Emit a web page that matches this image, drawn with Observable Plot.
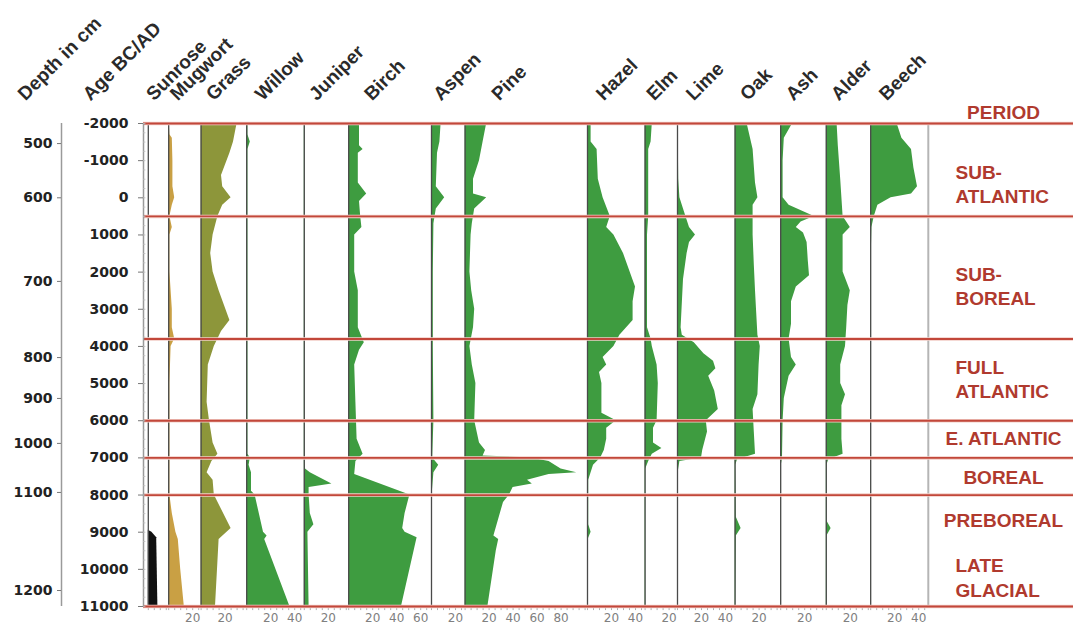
<!DOCTYPE html>
<html><head><meta charset="utf-8">
<script src="https://cdn.jsdelivr.net/npm/d3@7"></script>
<script src="https://cdn.jsdelivr.net/npm/@observablehq/plot@0.6"></script>
<style>body{margin:0;background:#fff;}</style>
</head><body><div id="chart"></div>
<script>
// ---------- DATA ----------
const taxa = ["Sunrose","Mugwort","Grass","Willow","Juniper","Birch","Aspen","Pine","Hazel","Elm","Lime","Oak","Ash","Alder","Beech"];
// percentage range shown by each taxon's panel
const panelRange = [17, 27, 38, 48, 37, 69, 28, 102, 48, 27, 48, 38, 38, 37, 48];
const taxonGroup = ["sunrose","herb","grass","tree","tree","tree","tree","tree","tree","tree","tree","tree","tree","tree","tree"];

// [age BC/AD, pollen %]
const sunrose = [[8950,0],[9000,3],[9150,7],[11000,8]];
const mugwort = [[-2000,0.5],[-1700,1],[-1600,3],[-1000,3.5],[-300,3.5],[0,5],[200,3],[500,1],[800,3],[1000,1],[2000,1],[3000,3],[3500,3],[3800,5],[4000,2],[5000,1],[6000,1],[7000,1],[8000,1],[8500,3],[9000,6],[9200,8],[10000,10],[11000,13]];
const grass = [[-2000,30],[-1500,27],[-1200,24],[-600,17],[-300,18],[0,25],[200,18],[500,14],[1000,10],[1500,8],[2000,10],[2500,15],[3300,24],[3600,17],[4000,11],[4500,6],[5500,5],[6000,7],[6600,10],[6900,14],[7100,9],[7400,5],[7600,10],[8000,11],[8900,25],[9200,15],[9800,14],[11000,12]];
const willow = [[-2000,1],[-1700,1],[-1500,3],[-1300,1],[6900,1],[7000,3],[7200,2],[7400,4],[7900,4],[8000,7],[9000,14],[9100,17],[9200,15],[11000,36]];
const juniper = [[-2000,0.5],[7000,0.5],[7300,1],[7400,5],[7700,23],[7800,4],[8000,4],[8500,5],[8800,8],[9000,3],[11000,4]];
const birch = [[-2000,9],[-1400,9],[-1300,12],[-1200,8],[-400,8],[-100,15],[100,9],[500,10],[800,11],[1000,5],[2000,5],[2500,8],[3500,8],[3900,13],[4100,9],[4500,5],[5500,6],[6500,7],[6900,12],[7100,6],[7450,5],[8000,51],[8500,47],[8900,45],[9000,47],[9150,57],[11000,44]];
const aspen = [[-2000,8],[-1500,7],[-1200,5],[-300,4],[0,11],[300,4],[700,2],[2000,1.5],[4000,1.5],[6000,2],[7000,1],[7200,6],[7400,2],[8000,0.5],[11000,0.5]];
const pine = [[-2000,18],[-1500,15],[-1000,12],[-500,7],[-100,7],[0,18],[300,8],[700,6],[1000,5],[2000,4],[2500,5.5],[3000,8],[3500,7],[4000,4],[4500,6],[5000,9],[6000,8],[6600,12],[6800,17],[6950,15],[7000,55],[7100,70],[7300,80],[7400,93],[7450,70],[7600,52],[7700,56],[7800,40],[8000,37],[8200,32],[9100,24],[9200,28],[9500,26],[11000,19]];
const hazel = [[-2000,3],[-1500,3],[-1300,8],[-500,9],[0,13],[500,19],[800,16],[1000,22],[1500,30],[2400,40],[2800,38],[3300,38],[3700,27],[4000,22],[4300,13],[4500,16],[4700,10],[5000,12],[5800,12],[6000,24],[6200,16],[6500,16],[6800,14],[7000,11],[7200,5],[7400,3],[7600,1],[8800,1],[9000,3],[9200,0.5],[11000,0.5]];
const elm = [[-2000,6],[-1500,5],[-1300,3],[500,3],[1000,2],[3500,2],[3800,5],[4000,6],[4500,10],[5000,11],[6000,10],[6200,7],[6600,7],[6750,14],[6900,6],[7100,3],[7300,0.5],[11000,0.5]];
const lime = [[-2000,0.5],[-500,1],[0,2],[500,7],[800,10],[1000,15],[1200,10],[1500,8],[2200,5],[3500,3],[3700,4],[3900,14],[4200,22],[4400,30],[4600,32],[4800,26],[5200,31],[5700,34],[6000,24],[6300,25],[6800,21],[7000,20],[7100,2],[7400,0.5],[11000,0.5]];
const oak = [[-2000,10],[-1300,15],[-400,17],[0,19],[200,15],[1000,15],[1800,16],[2500,17],[3100,18],[3700,19],[4000,21],[4500,20],[5300,19],[5700,15],[6300,16],[6900,17],[7050,2],[7200,0.5],[8600,1],[8900,5],[9100,1],[11000,0.5]];
const ash = [[-2000,10],[-1600,3],[-1000,2],[0,2],[200,7],[500,28],[650,17],[800,13],[950,19],[1200,22],[1700,23],[2100,24],[2400,13],[2800,9],[3400,9],[3800,7],[4300,9],[4500,13],[4800,7],[5400,3],[6000,2],[7000,1.5],[7200,0.5],[11000,0.5]];
const alder = [[-2000,9],[-1400,10],[-500,12],[500,14],[800,20],[1000,14],[2000,14],[2500,20],[2900,18],[3500,17],[4000,16],[4500,12],[5000,12],[5300,16],[5600,13],[6500,13],[6900,14],[7050,2],[7200,0.5],[8700,0.5],[8900,4],[9100,0.5],[11000,0.5]];
const beech = [[-2000,22],[-1600,26],[-1300,34],[-800,36],[-300,39],[-100,34],[0,17],[200,6],[500,3],[800,1],[1500,0.5],[11000,0.5]];
const profiles = [sunrose, mugwort, grass, willow, juniper, birch, aspen, pine, hazel, elm, lime, oak, ash, alder, beech];

const ageTicks = [-2000,-1000,0,1000,2000,3000,4000,5000,6000,7000,8000,9000,10000,11000];
const depthTicks = [500,600,700,800,900,1000,1100,1200];
const depthAtAge = [-1460,0,2250,4300,5400,6610,7930,10570]; // age at each depth tick

const periodBounds = [-2000, 500, 3800, 6000, 7000, 8000, 11000];
const periodNames = ["SUB-\nATLANTIC","SUB-\nBOREAL","FULL\nATLANTIC","E. ATLANTIC","BOREAL","PREBOREAL","LATE\nGLACIAL"];
const periodLabelAge = [-400, 2350, 4850, 6480, 7530, 8700, 10200];
const pctTicks = [20, 40, 60, 80, 100];

// ---------- LAYOUT ----------
const W = 1073, H = 635;
const mL = 143, mT = 123, mB = 29, mR = 0;
const pxPerUnit = 1.2;
const xMin = -4;
const xMax = xMin + (W - mL - mR) / pxPerUnit;
const ageMin = -2000, ageMax = 11000;
const groupColor = {sunrose: "#111111", herb: "#c9a044", grass: "#8d963a", tree: "#3e9c40"};
const sans = "DejaVu Sans, Verdana, sans-serif";
const arial = "Liberation Sans, Arial, sans-serif";

let acc = 0;
const panels = taxa.map((name, i) => {
  const p = {name, offset: acc, range: panelRange[i], group: taxonGroup[i], profile: profiles[i]};
  acc += panelRange[i];
  return p;
});
const panelsEnd = acc;

const pctLabels = panels.flatMap(p => pctTicks.filter(v => v <= p.range - 5).map(v => ({x: p.offset + v, v})));
const minorTicks = panels.flatMap(p => d3.range(0, p.range, 5).map(v => ({x: p.offset + v})));
const ageMinor = d3.range(ageMin, ageMax + 1, 250);
const depthMap = new Map(depthAtAge.map((a, i) => [a, depthTicks[i]]));
const periods = periodNames.map((name, i) => ({name, age: periodLabelAge[i], multi: name.includes("\n")}));

const marks = [];
// areas
for (const p of panels) {
  const rows = p.profile.map(([age, v]) => ({age, x1: p.offset, x2: p.offset + v}));
  marks.push(Plot.areaX(rows, {y: "age", x1: "x1", x2: "x2", fill: groupColor[p.group], curve: "linear"}));
}
// panel zero lines & right border
marks.push(Plot.ruleX(panels, {x: "offset", stroke: "#4a4a4a", strokeWidth: 1.3}));
marks.push(Plot.ruleX([panelsEnd], {stroke: "#b5b5b5", strokeWidth: 2}));
// bottom minor ticks
marks.push(Plot.ruleX(minorTicks, {x: "x", y1: ageMax, y2: ageMax + 110, stroke: "#999", strokeWidth: 0.8}));
// period lines
marks.push(Plot.ruleY(periodBounds, {stroke: "#f2cdc6", strokeWidth: 3.5}));
marks.push(Plot.ruleY(periodBounds, {stroke: "#c2473a", strokeWidth: 1.8}));
// age axis
marks.push(Plot.ruleX([xMin], {stroke: "#9a9a9a", strokeWidth: 1.5}));
marks.push(Plot.ruleY(ageMinor, {x1: xMin, x2: xMin + 2, stroke: "#bbb", strokeWidth: 0.8}));
marks.push(Plot.axisY(ageTicks, {anchor: "left", label: null, tickSize: 5, tickPadding: 10, tickFormat: d => String(d),
  fontSize: 14, fontWeight: "bold", fontFamily: sans, fill: "#222", stroke: "#777"}));
// depth axis
marks.push(Plot.ruleX([xMin], {dx: -82, stroke: "#9a9a9a", strokeWidth: 1.5}));
marks.push(Plot.axisY(depthAtAge, {anchor: "left", label: null, dx: -82, tickSize: 4, tickPadding: 5, tickFormat: d => String(depthMap.get(d)),
  fontSize: 14, fontWeight: "bold", fontFamily: sans, fill: "#222", stroke: "#777"}));
// header labels
const headStyle = {rotate: -45, textAnchor: "start", lineAnchor: "bottom", fontSize: 19, fontWeight: "bold", fontFamily: arial, fill: "#2a2a2a"};
marks.push(Plot.text(panels, {x: d => d.offset + 0.28 * d.range, text: "name", frameAnchor: "top", dy: -22, ...headStyle}));
marks.push(Plot.text(["Depth in cm"], {frameAnchor: "top-left", dx: -118, dy: -22, ...headStyle}));
marks.push(Plot.text(["Age BC/AD"], {frameAnchor: "top-left", dx: -53, dy: -22, ...headStyle}));
// bottom percentage labels
marks.push(Plot.text(pctLabels, {x: "x", text: "v", frameAnchor: "bottom", dy: 15, fontSize: 12, fontFamily: sans, fill: "#808080"}));
// period labels
const perStyle = {fontSize: 19, fontWeight: "bold", fontFamily: arial, fill: "#b03a2e"};
marks.push(Plot.text(["PERIOD"], {frameAnchor: "top-right", dx: -70, dy: -5, textAnchor: "middle", lineAnchor: "bottom", ...perStyle}));
marks.push(Plot.text(periods.filter(d => !d.multi), {y: "age", text: "name", frameAnchor: "right", dx: -70, textAnchor: "middle", ...perStyle}));
marks.push(Plot.text(periods.filter(d => d.multi), {y: "age", text: "name", frameAnchor: "right", dx: -118, textAnchor: "start", lineHeight: 1.28, ...perStyle}));

const chart = Plot.plot({
  width: W, height: H,
  marginLeft: mL, marginRight: mR, marginTop: mT, marginBottom: mB,
  x: {domain: [xMin, xMax], axis: null},
  y: {domain: [ageMin, ageMax], reverse: true, axis: null},
  style: {background: "#fff", fontFamily: sans},
  marks
});
document.getElementById("chart").appendChild(chart);
</script></body></html>
